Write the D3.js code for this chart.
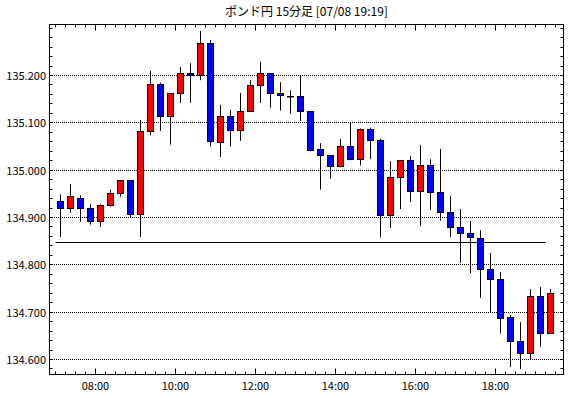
<!DOCTYPE html>
<html>
<head>
<meta charset="utf-8">
<script src="https://cdn.jsdelivr.net/npm/d3@7"></script>
<style>
  body { margin: 0; background: #fff; }
  text { font-family: "Noto Sans CJK JP", "Liberation Sans", sans-serif; }
</style>
</head>
<body>
<svg id="chart" width="570" height="398"></svg>
<script>
// ポンド円 15分足
const title = "ポンド円 15分足 [07/08 19:19]";

const times = ["07:00","07:15","07:30","07:45","08:00","08:15","08:30","08:45",
  "09:00","09:15","09:30","09:45","10:00","10:15","10:30","10:45",
  "11:00","11:15","11:30","11:45","12:00","12:15","12:30","12:45",
  "13:00","13:15","13:30","13:45","14:00","14:15","14:30","14:45",
  "15:00","15:15","15:30","15:45","16:00","16:15","16:30","16:45",
  "17:00","17:15","17:30","17:45","18:00","18:15","18:30","18:45",
  "19:00","19:15"];

const opens = [134.934,134.919,134.940,134.919,134.892,134.926,134.951,134.978,
  134.907,135.082,135.181,135.113,135.162,135.205,135.200,135.268,
  135.059,135.113,135.084,135.124,135.179,135.205,135.162,135.156,
  135.156,135.124,135.044,135.031,135.008,135.050,135.023,135.086,
  135.063,134.904,134.985,135.021,134.955,135.010,134.953,134.911,
  134.879,134.866,134.856,134.790,134.769,134.689,134.638,134.612,
  134.734,134.655];
const highs = [134.949,134.971,134.947,134.928,134.928,134.959,134.978,134.978,
  135.106,135.210,135.185,135.162,135.218,135.226,135.294,135.275,
  135.138,135.127,135.163,135.190,135.229,135.205,135.186,135.169,
  135.201,135.124,135.057,135.031,135.066,135.101,135.088,135.090,
  135.066,135.019,135.021,135.030,135.053,135.023,135.045,134.946,
  134.918,134.893,134.873,134.825,134.785,134.694,134.679,134.749,
  134.753,134.749];
const lows = [134.859,134.910,134.891,134.885,134.880,134.923,134.944,134.899,
  134.859,135.074,135.083,135.054,135.142,135.142,135.190,135.050,
  135.028,135.050,135.062,135.124,135.142,135.132,135.126,135.119,
  135.104,135.040,134.959,134.982,135.006,135.021,135.010,135.023,
  134.858,134.878,134.918,134.933,134.882,134.916,134.893,134.859,
  134.804,134.782,134.730,134.699,134.655,134.584,134.580,134.600,
  134.627,134.655];
const closes = [134.919,134.945,134.919,134.892,134.926,134.951,134.978,134.907,
  135.082,135.181,135.113,135.162,135.205,135.200,135.268,135.061,
  135.113,135.084,135.124,135.179,135.205,135.162,135.158,135.155,
  135.124,135.042,135.031,135.008,135.050,135.023,135.086,135.063,
  134.904,134.985,135.021,134.955,135.010,134.953,134.911,134.879,
  134.866,134.858,134.790,134.769,134.687,134.638,134.612,134.734,
  134.655,134.739];

// 基準線
const refLine = { value: 134.848, from: "07:00", to: "19:15" };

const yTicks = [134.6, 134.7, 134.8, 134.9, 135.0, 135.1, 135.2];

const svg = d3.select("#chart");
const parse = d3.timeParse("%H:%M");

// plot box
const plotL = 49.5, plotR = 563.5, plotT = 24.5, plotB = 374.5;

const x = d3.scaleTime()
  .domain([parse("07:00"), parse("19:30")])
  .range([55.5, 555.5]);

const y = d3.scaleLinear()
  .domain([134.6, 135.2])
  .range([359.5, 75.5]);

// snap to pixel grid so 1px lines stay crisp
const snap = v => Math.round(v - 0.5) + 0.5;

const half = (x(parse("07:15")) - x(parse("07:00"))) / 2;

const data = times.map((t, i) => ({
  t: parse(t), o: opens[i], h: highs[i], l: lows[i], c: closes[i]
}));

// title
svg.append("text")
  .attr("x", (plotL + plotR) / 2)
  .attr("y", 16)
  .attr("text-anchor", "middle")
  .attr("font-size", 12)
  .text(title);

// grid (start on a whole pixel so the dots stay sharp)
svg.append("g").selectAll("line")
  .data(yTicks)
  .enter().append("line")
  .attr("x1", plotL + 0.5).attr("x2", plotR - 0.5)
  .attr("y1", d => snap(y(d))).attr("y2", d => snap(y(d)))
  .attr("stroke", "#000")
  .attr("stroke-dasharray", "1,1");

// y labels
svg.append("g").selectAll("text")
  .data(yTicks)
  .enter().append("text")
  .attr("x", 46)
  .attr("y", d => snap(y(d)) + 4)
  .attr("text-anchor", "end")
  .attr("font-size", 11)
  .text(d => d3.format(".3f")(d));

// minor y ticks, both sides, pointing in
const yMin = y.invert(plotB), yMax = y.invert(plotT);
const yMinor = d3.range(Math.ceil(yMin / 0.02) * 0.02, yMax, 0.02);
const tickG = svg.append("g").attr("stroke", "#000");
yMinor.forEach(v => {
  const yy = snap(y(v));
  tickG.append("line").attr("x1", plotL).attr("x2", plotL + 3).attr("y1", yy).attr("y2", yy);
  tickG.append("line").attr("x1", plotR - 3).attr("x2", plotR).attr("y1", yy).attr("y2", yy);
});

// x ticks
const xMinor = d3.timeMinute.every(15).range(x.invert(plotL), x.invert(plotR));
xMinor.forEach(d => {
  const xx = x(d);
  const len = (d.getMinutes() === 0 && d.getHours() % 2 === 0) ? 6 : 3;
  tickG.append("line").attr("x1", xx).attr("x2", xx).attr("y1", plotT).attr("y2", plotT + len);
  tickG.append("line").attr("x1", xx).attr("x2", xx).attr("y1", plotB).attr("y2", plotB - len);
});

// x labels
const xMajor = d3.timeHour.every(2).range(x.invert(plotL), x.invert(plotR));
svg.append("g").selectAll("text")
  .data(xMajor)
  .enter().append("text")
  .attr("x", d => x(d))
  .attr("y", 390)
  .attr("text-anchor", "middle")
  .attr("font-size", 11)
  .text(d => d3.timeFormat("%H:%M")(d));

// reference line
svg.append("line")
  .attr("x1", x(parse(refLine.from))).attr("x2", x(parse(refLine.to)))
  .attr("y1", snap(y(refLine.value)))
  .attr("y2", snap(y(refLine.value)))
  .attr("stroke", "#000");

// candles
const candles = svg.append("g").selectAll("g")
  .data(data)
  .enter().append("g");

candles.append("line")
  .attr("x1", d => x(d.t) + half).attr("x2", d => x(d.t) + half)
  .attr("y1", d => y(d.h)).attr("y2", d => y(d.l))
  .attr("stroke", "#000");

candles.append("rect")
  .attr("x", d => x(d.t) + half - 3)
  .attr("width", 6)
  .attr("y", d => snap(y(Math.max(d.o, d.c))))
  .attr("height", d => Math.max(0.5, snap(y(Math.min(d.o, d.c))) - snap(y(Math.max(d.o, d.c)))))
  .attr("fill", d => d.c >= d.o ? "#ff0000" : "#0000ff")
  .attr("stroke", "#000");

// frame
svg.append("rect")
  .attr("x", plotL).attr("y", plotT)
  .attr("width", plotR - plotL).attr("height", plotB - plotT)
  .attr("fill", "none")
  .attr("stroke", "#000");
</script>
</body>
</html>
